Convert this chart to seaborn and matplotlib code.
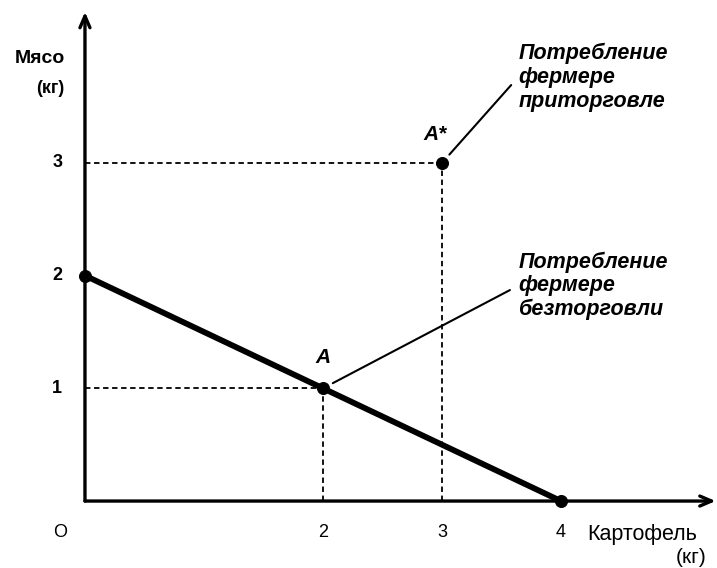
import matplotlib
matplotlib.use('Agg')
import seaborn as sns
import matplotlib.pyplot as plt
import pandas as pd

# Данные: граница производственных возможностей и точки потребления
potato_ppf = [0, 4]
meat_ppf = [2, 0]
point_x = [0, 2, 3, 4]
point_y = [2, 1, 3, 0]
guide_x = [2, 3]          # точки A и A*
guide_y = [1, 3]
x_ticks = [2, 3, 4]
y_ticks = [1, 2, 3]

sns.set_theme(style='white')
plt.rcParams['font.family'] = ['Liberation Sans', 'DejaVu Sans']
plt.rcParams['text.color'] = 'black'

fig = plt.figure(figsize=(7.17, 5.68), dpi=100)
ax = fig.add_axes([0, 0, 1, 1])
ax.set_xlim(-0.714, 5.311)
ax.set_ylim(-0.594, 4.445)
ax.axis('off')

# Оси со стрелками
arrow = dict(arrowstyle='->, head_length=0.7, head_width=0.3', lw=2.4, color='black',
             shrinkA=0, shrinkB=0)
ax.annotate('', xy=(0, 4.34), xytext=(0, 0), arrowprops=arrow)
ax.annotate('', xy=(5.30, 0), xytext=(0, 0), arrowprops=arrow)

# Пунктирные направляющие
ax.hlines(guide_y, 0, guide_x, colors='black', linestyles=(0, (3, 2)), lw=1.3)
ax.vlines(guide_x, 0, guide_y, colors='black', linestyles=(0, (3, 2)), lw=1.3)

# Линия производственных возможностей
ppf = pd.DataFrame({'x': potato_ppf, 'y': meat_ppf})
sns.lineplot(data=ppf, x='x', y='y', color='black', lw=4.2, ax=ax)
pts = pd.DataFrame({'x': point_x, 'y': point_y})
sns.scatterplot(data=pts, x='x', y='y', color='black', s=75, edgecolor='black', ax=ax, zorder=5)

# Подписи делений
for v in y_ticks:
    ax.text(-0.19, v, str(v), ha='right', va='center', fontsize=13, fontweight='bold')
for v in x_ticks:
    ax.text(v, -0.275, str(v), ha='center', va='center', fontsize=13)
ax.text(-0.21, -0.275, 'O', ha='center', va='center', fontsize=13)

# Подписи осей
ax.text(-0.17, 3.93, 'Мясо', ha='right', va='center', fontsize=14, fontweight='bold')
ax.text(-0.17, 3.66, '(кг)', ha='right', va='center', fontsize=13, fontweight='bold')
ax.text(4.22, -0.30, 'Картофель', ha='left', va='center', fontsize=15.5)
ax.text(5.22, -0.50, '(кг)', ha='right', va='center', fontsize=15)

# Точки A и A*
lab = dict(fontsize=15, fontweight='bold', fontstyle='italic', ha='center', va='center')
ax.text(2.94, 3.25, 'A*', **lab)
ax.text(2.0, 1.27, 'A', **lab)

note = dict(fontsize=15.5, fontweight='bold', fontstyle='italic', ha='left', va='center',
            linespacing=1.17)
ax.annotate('Потребление\nфермере\nприторговле', xy=(3, 3), xytext=(3.64, 3.76),
            arrowprops=dict(arrowstyle='-', lw=1.5, color='black', relpos=(0, 0.5),
                            shrinkA=4, shrinkB=8), **note)
ax.annotate('Потребление\nфермере\nбезторговли', xy=(2, 1), xytext=(3.64, 1.91),
            arrowprops=dict(arrowstyle='-', lw=1.5, color='black', relpos=(0, 0.5),
                            shrinkA=4, shrinkB=8), **note)

plt.savefig('out.png', dpi=100)
